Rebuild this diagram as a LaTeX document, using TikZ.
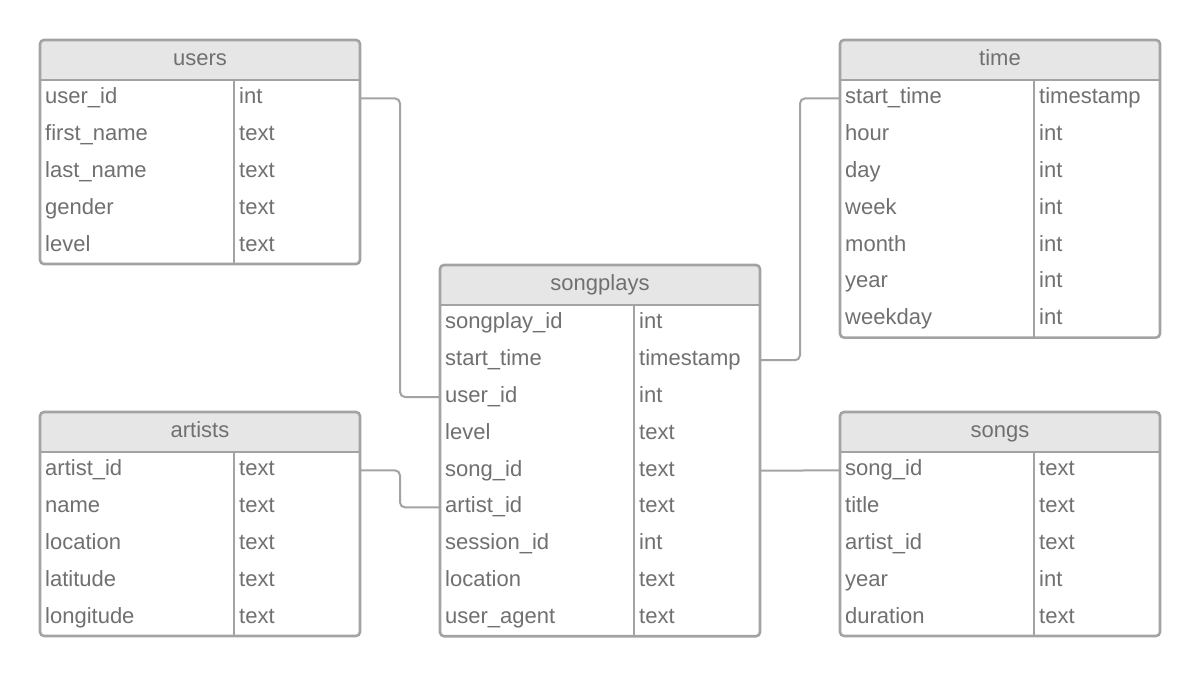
\documentclass[tikz,border=0pt]{standalone}
\usepackage{fontspec}
\setmainfont{Liberation Sans}
\definecolor{tabline}{HTML}{A3A3A3}
\definecolor{tabhead}{HTML}{E6E6E6}
\definecolor{tabtext}{HTML}{707070}
\tikzset{
  tabborder/.style={draw=tabline, line width=2.6pt, rounded corners=4pt},
  fieldtext/.style={inner sep=0pt, anchor=west, text=tabtext, text height=16pt, text depth=5pt},
  headtext/.style={inner sep=0pt, text=tabtext, text height=16pt, text depth=5pt},
  link/.style={draw=tabline, line width=2pt, rounded corners=5pt},
}
% #1 name, #2 x, #3 y, #4 title, #5 number of rows, #6 rows
\newcommand{\drawtable}[6]{
    \pgfmathsetmacro\tabbot{#3+40+#5*36.8}
    \fill[white,rounded corners=4pt] (#2,#3) rectangle (#2+320,\tabbot);
    \begin{scope}
    \clip[rounded corners=4pt] (#2,#3) rectangle (#2+320,\tabbot);
    \fill[tabhead] (#2,#3) rectangle (#2+320,#3+40);
    \end{scope}
    \node[headtext] (#1) at (#2+160,#3+20) {#4};
    \draw[tabline, line width=2.6pt] (#2,#3+40) -- (#2+320,#3+40);
    \draw[tabline, line width=2.6pt] (#2+194,#3+40) -- (#2+194,\tabbot);
    \foreach \fname/\ftype [count=\i] in {#6} {
        \pgfmathsetmacro\rowy{#3+40+(\i-0.5)*36.8}
        \coordinate (#1-l\i) at (#2,\rowy);
        \coordinate (#1-r\i) at (#2+320,\rowy);
        \node[fieldtext] (#1-f\i) at (#2+5,\rowy) {\fname};
        \node[fieldtext] (#1-t\i) at (#2+199,\rowy) {\ftype};
    }
    \draw[tabborder] (#2,#3) rectangle (#2+320,\tabbot);
}

\begin{document}
\begin{tikzpicture}[x=1pt,y=-1pt,font=\fontsize{22}{26}\selectfont]
\useasboundingbox (0,0) rectangle (1200,678);
\drawtable{users}{40}{40}{users}{5}{user\_id/int, first\_name/text, last\_name/text, gender/text, level/text}
\drawtable{time}{840}{40}{time}{7}{start\_time/timestamp, hour/int, day/int, week/int, month/int, year/int, weekday/int}
\drawtable{songplays}{440}{265}{songplays}{9}{songplay\_id/int, start\_time/timestamp, user\_id/int, level/text, song\_id/text, artist\_id/text, session\_id/int, location/text, user\_agent/text}
\drawtable{artists}{40}{412}{artists}{5}{artist\_id/text, name/text, location/text, latitude/text, longitude/text}
\drawtable{songs}{840}{412}{songs}{5}{song\_id/text, title/text, artist\_id/text, year/int, duration/text}
% links
\draw[link] (users-r1) -- ++(40,0) |- (songplays-l3);
\draw[link] (time-l1) -- ++(-40,0) |- (songplays-r2);
\draw[link] (artists-r1) -- ++(40,0) |- (songplays-l6);
\draw[link] (songs-l1) -- (songplays-r5);
\end{tikzpicture}
\end{document}
